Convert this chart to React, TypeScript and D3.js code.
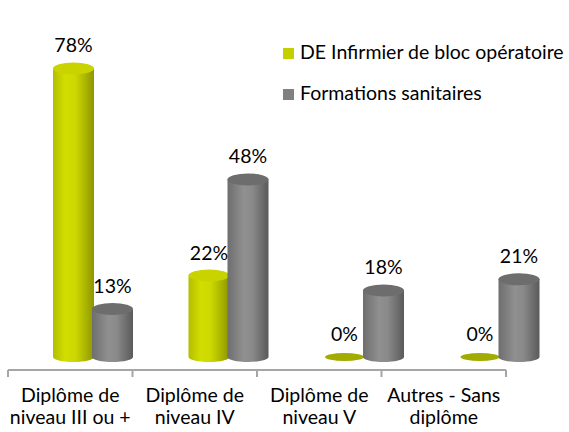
import React from 'react';
import * as d3 from 'd3';

// categories, split onto two lines as in the chart
const categories = ['niv3', 'niv4', 'niv5', 'autres'];
const categoryLines: string[][] = [
  ['Diplôme de', 'niveau III ou +'],
  ['Diplôme de', 'niveau IV'],
  ['Diplôme de', 'niveau V'],
  ['Autres - Sans', 'diplôme'],
];
const seriesNames = ['DE Infirmier de bloc opératoire', 'Formations sanitaires'];
const ibodeValues = [78, 22, 0, 0];
const sanitaireValues = [13, 48, 18, 21];

const W = 569;
const H = 432;
const FONT = 'Lato, "Open Sans", sans-serif';
const FS = 19.5;

const App: React.FC = () => {
  const axisY = 370;
  const baseY = 357;

  // axis categories (front plane)
  const xAxis = d3.scaleBand<string>().domain(categories).range([8, 506]);
  // bar positions (shifted back plane of the 3D chart)
  const xBars = d3.scaleBand<string>().domain(categories).range([24, 566]);
  const y = d3.scaleLinear().domain([0, 80]).range([baseY, baseY - 296]);

  const barW = 41;
  const rx = barW / 2;
  const ryTop = 6;
  const ryBottom = 5;

  const series = [
    { name: seriesNames[0], values: ibodeValues, offset: 29, grad: 'gGreen', top: '#c9d300', zero: '#a2ab00', legend: '#c3d000' },
    { name: seriesNames[1], values: sanitaireValues, offset: 68, grad: 'gGray', top: '#6d6d6d', zero: '#6d6d6d', legend: '#808080' },
  ];

  const cylinder = (x0: number, top: number) => {
    const x1 = x0 + barW;
    const p = d3.path();
    p.moveTo(x0, top);
    p.lineTo(x0, baseY);
    // bottom half ellipse approximated by cubic
    const k = 0.5523;
    p.bezierCurveTo(x0, baseY + ryBottom * k, x0 + rx - rx * k, baseY + ryBottom, x0 + rx, baseY + ryBottom);
    p.bezierCurveTo(x0 + rx + rx * k, baseY + ryBottom, x1, baseY + ryBottom * k, x1, baseY);
    p.lineTo(x1, top);
    p.closePath();
    return p.toString();
  };

  const ticks = [...categories.map(c => xAxis(c)!), xAxis.range()[1]];

  return (
    <svg width={W} height={H} style={{ position: 'absolute', left: 0, top: 0 }}>
      <defs>
        <linearGradient id="gGreen" x1="0" x2="1" y1="0" y2="0">
          <stop offset="0" stopColor="#b4be00" />
          <stop offset="0.3" stopColor="#d2de00" />
          <stop offset="0.55" stopColor="#ccd800" />
          <stop offset="1" stopColor="#8e9600" />
        </linearGradient>
        <linearGradient id="gGray" x1="0" x2="1" y1="0" y2="0">
          <stop offset="0" stopColor="#6e6e6e" />
          <stop offset="0.4" stopColor="#909090" />
          <stop offset="0.6" stopColor="#8a8a8a" />
          <stop offset="1" stopColor="#5a5a5a" />
        </linearGradient>
      </defs>
      <rect width={W} height={H} fill="#ffffff" />

      {/* bars */}
      {series.map(s => (
        <g key={s.name}>
          {categories.map((c, i) => {
            const v = s.values[i];
            const x0 = xBars(c)! + s.offset;
            const cx = x0 + rx;
            if (v === 0) {
              return <ellipse key={c} cx={cx} cy={baseY} rx={rx - 1} ry={4} fill={s.zero} />;
            }
            const top = y(v);
            return (
              <g key={c}>
                <path d={cylinder(x0, top)} fill={`url(#${s.grad})`} />
                <ellipse cx={cx} cy={top} rx={rx} ry={ryTop} fill={s.top} />
              </g>
            );
          })}
        </g>
      ))}

      {/* value labels */}
      {series.map(s => (
        <g key={s.name + '-lab'} fontFamily={FONT} fontSize={FS} fill="#000">
          {categories.map((c, i) => {
            const v = s.values[i];
            const cx = xBars(c)! + s.offset + rx;
            return (
              <text key={c} x={cx} y={y(v) - 16} textAnchor="middle">
                {v}%
              </text>
            );
          })}
        </g>
      ))}

      {/* axis */}
      <line x1={8} x2={xAxis.range()[1]} y1={axisY} y2={axisY} stroke="#a6a6a6" strokeWidth={2} />
      {ticks.map((t, i) => (
        <line key={i} x1={t} x2={t} y1={axisY} y2={axisY + 7} stroke="#a6a6a6" strokeWidth={2} />
      ))}
      {categories.map((c, i) => (
        <text key={c} x={xAxis(c)! + xAxis.bandwidth() / 2} textAnchor="middle" fontFamily={FONT} fontSize={FS} fill="#000">
          {categoryLines[i].map((line, j) => (
            <tspan key={j} x={xAxis(c)! + xAxis.bandwidth() / 2} y={402 + j * 22}>
              {line}
            </tspan>
          ))}
        </text>
      ))}

      {/* legend */}
      {series.map((s, i) => (
        <g key={s.name + '-leg'} transform={`translate(283, ${48 + i * 41})`}>
          <rect width={11} height={11} fill={s.legend} />
          <text x={17} y={10.5} fontFamily={FONT} fontSize={FS} fill="#000">
            {s.name}
          </text>
        </g>
      ))}
    </svg>
  );
};

export default App;
